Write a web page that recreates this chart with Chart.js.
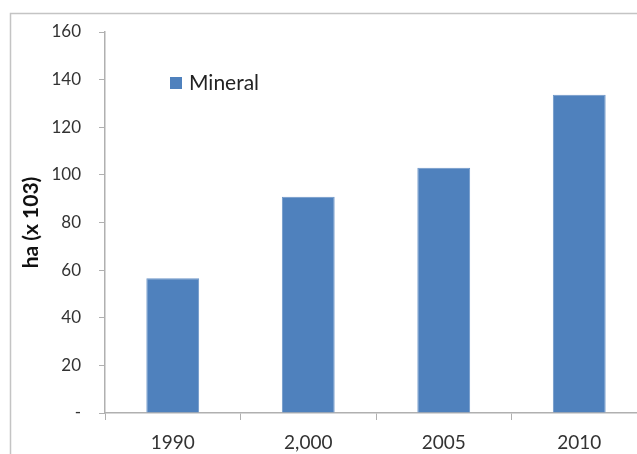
<!DOCTYPE html>
<html>
<head>
<meta charset="utf-8">
<script src="https://cdn.jsdelivr.net/npm/chart.js@4"></script>
<style>
  html, body { margin: 0; padding: 0; background: #fff; overflow: hidden; }
  #chart { display: block; }
</style>
</head>
<body>
<canvas id="chart" width="660" height="454"></canvas>
<script>
// ========== DATA ==========
const years = ['1990', '2,000', '2005', '2010'];
const mineral = [56.6, 90.8, 103, 133.6];
const yTickLabels = ['-', '20', '40', '60', '80', '100', '120', '140', '160'];
const seriesLabel = 'Mineral';
const yTitle = 'ha (x 103)';

const BAR_COLOR = '#4F81BD';
const AXIS_COLOR = '#b0b0b0';
const TEXT_COLOR = '#333';

// outer frame like the pasted excel chart
const framePlugin = {
  id: 'frame',
  beforeDraw(chart) {
    const ctx = chart.ctx;
    ctx.save();
    ctx.strokeStyle = '#c4c4c4';
    ctx.lineWidth = 1.5;
    ctx.strokeRect(10.5, 13.5, chart.width + 20, chart.height + 20);
    ctx.restore();
  }
};

// legend sits inside the plot, top-left
const insideLegend = {
  id: 'insideLegend',
  afterDraw(chart) {
    const ctx = chart.ctx;
    const ds = chart.data.datasets[0];
    ctx.save();
    ctx.fillStyle = ds.backgroundColor;
    ctx.fillRect(170, 77, 12, 12);
    ctx.fillStyle = '#222';
    ctx.font = '21px Lato';
    ctx.textBaseline = 'middle';
    ctx.fillText(ds.label, 189, 83);
    ctx.restore();
  }
};

new Chart(document.getElementById('chart'), {
  type: 'bar',
  data: {
    labels: years,
    datasets: [{
      label: seriesLabel,
      data: mineral,
      backgroundColor: BAR_COLOR,
      borderColor: '#6d96c8',
      borderWidth: 1,
      barPercentage: 0.78,
      categoryPercentage: 0.5
    }]
  },
  options: {
    responsive: false,
    animation: false,
    layout: { padding: { left: 10, top: 32, right: 13, bottom: 0 } },
    plugins: {
      legend: { display: false },
      tooltip: { enabled: false }
    },
    scales: {
      x: {
        grid: {
          offset: true,
          drawOnChartArea: false,
          drawTicks: true,
          tickLength: 7,
          color: AXIS_COLOR
        },
        border: { color: AXIS_COLOR, width: 1.5 },
        ticks: {
          color: TEXT_COLOR,
          font: { family: 'Lato', size: 19 },
          padding: 11
        },
        afterFit(scale) { scale.height = 41; }
      },
      y: {
        min: 0,
        max: 160,
        grid: {
          drawOnChartArea: false,
          drawTicks: true,
          tickLength: 6,
          color: AXIS_COLOR
        },
        border: { color: AXIS_COLOR, width: 1.5 },
        ticks: {
          stepSize: 20,
          color: TEXT_COLOR,
          font: { family: 'Lato', size: 17 },
          padding: 18,
          callback: (v, i) => yTickLabels[i]
        },
        title: {
          display: true,
          text: yTitle,
          color: '#111',
          font: { family: 'Lato', size: 21, weight: 'bold' },
          padding: { top: 9, bottom: 0 }
        },
        afterFit(scale) { scale.width = 95; }
      }
    }
  },
  plugins: [framePlugin, insideLegend]
});
</script>
</body>
</html>
